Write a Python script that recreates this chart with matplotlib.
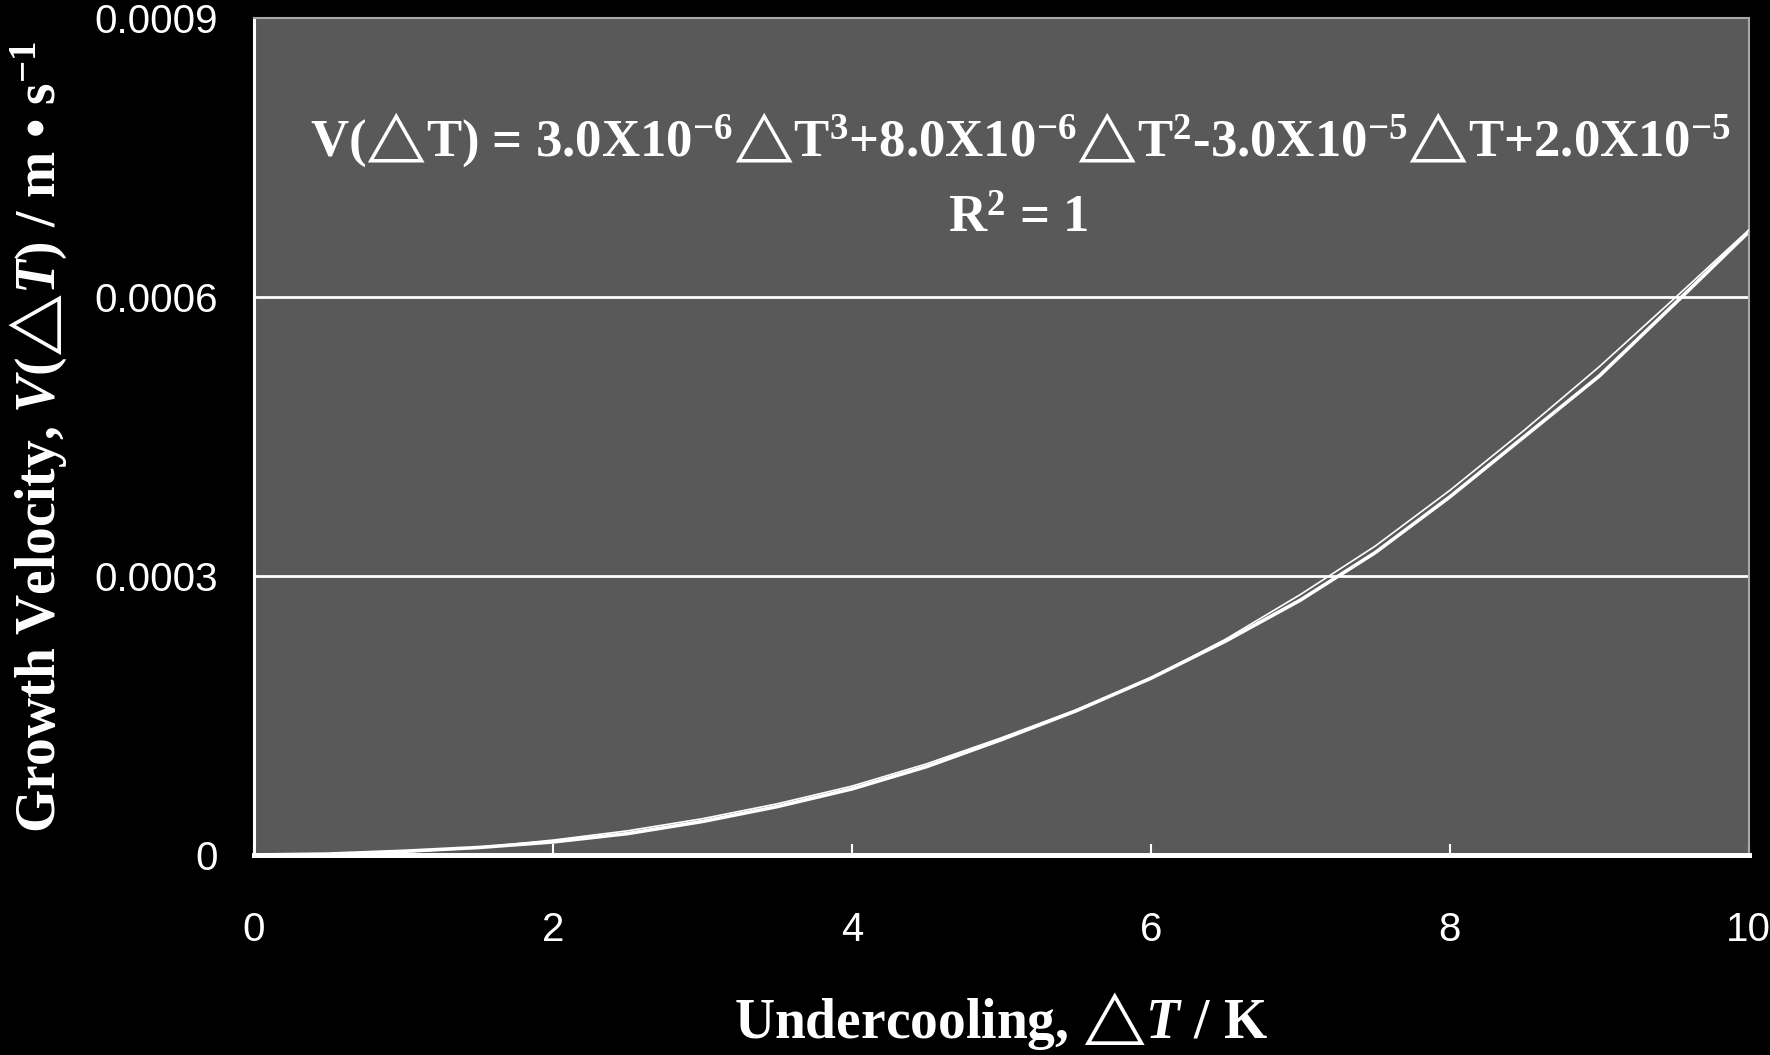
import matplotlib
matplotlib.use("Agg")
import matplotlib.pyplot as plt

# undercooling (K) and growth velocity (m/s)
dT = [0, 0.5, 1, 1.5, 2, 2.5, 3, 3.5, 4, 4.5, 5, 5.5, 6, 6.5, 7, 7.5, 8, 8.5, 9, 9.5, 10]
v_data = [0, 1e-6, 4e-6, 8e-6, 1.4e-5, 2.3e-5, 3.6e-5, 5.2e-5, 7.1e-5, 9.5e-5, 1.24e-4,
          1.55e-4, 1.9e-4, 2.3e-4, 2.74e-4, 3.25e-4, 3.85e-4, 4.5e-4, 5.15e-4, 5.92e-4, 6.7e-4]
# polynomial trend line as drawn
v_trend = [0, 1e-6, 3e-6, 8e-6, 1.6e-5, 2.6e-5, 3.9e-5, 5.5e-5, 7.4e-5, 9.8e-5, 1.26e-4,
           1.56e-4, 1.9e-4, 2.32e-4, 2.8e-4, 3.32e-4, 3.92e-4, 4.57e-4, 5.25e-4, 5.98e-4, 6.72e-4]

xticks = [0, 2, 4, 6, 8, 10]
yticks = [0, 0.0003, 0.0006, 0.0009]
ytick_labels = ["0", "0.0003", "0.0006", "0.0009"]

equation = (r"V($△$T) = 3.0X10$^{-6}△$T$^{3}$+8.0X10$^{-6}△$T$^{2}$"
            r"-3.0X10$^{-5}△$T+2.0X10$^{-5}$")
r2_text = r"R$^{2}$ = 1"

plt.rcParams["mathtext.fontset"] = "custom"
plt.rcParams["mathtext.rm"] = "Liberation Serif:bold"
plt.rcParams["mathtext.bf"] = "Liberation Serif:bold"
plt.rcParams["mathtext.it"] = "Liberation Serif:italic:bold"
plt.rcParams["mathtext.fallback"] = "stix"
plt.rcParams["mathtext.default"] = "regular"

fig = plt.figure(figsize=(17.7, 10.55), dpi=100, facecolor="black")
ax = fig.add_axes([0.1435, 0.1896, 0.8445, 0.7934], facecolor="#595959")

for y in yticks[1:3]:
    ax.axhline(y, color="white", lw=2.0, zorder=1)

ax.plot(dT, v_trend, color="white", lw=1.2, zorder=3)
ax.plot(dT, v_data, color="white", lw=2.6, zorder=2)

ax.set_xlim(0, 10)
ax.set_ylim(0, 0.0009)
ax.set_xticks(xticks)
ax.set_yticks(yticks)
ax.set_yticklabels(ytick_labels)

ax.tick_params(axis="x", direction="in", length=8, width=1.5, color="white",
               labelcolor="white", labelsize=29, pad=40)
ax.tick_params(axis="y", length=0, labelcolor="white", labelsize=29, pad=26)
for lab in ax.get_xticklabels() + ax.get_yticklabels():
    lab.set_fontfamily("Liberation Sans")

ax.spines["left"].set_color("white")
ax.spines["left"].set_linewidth(2.2)
ax.spines["bottom"].set_color("white")
ax.spines["bottom"].set_linewidth(3.6)
ax.spines["top"].set_color("#a8a8a8")
ax.spines["top"].set_linewidth(1.5)
ax.spines["right"].set_color("#a8a8a8")
ax.spines["right"].set_linewidth(1.5)

ax.set_xlabel(r"Undercooling, $△\mathit{T}$ / K", color="white", fontsize=40,
              fontweight="bold", family="Liberation Serif", labelpad=30)
ax.set_ylabel(r"Growth Velocity, $\mathit{V}$($△\mathit{T}$) / m • s$^{-1}$", color="white",
              fontsize=40, fontweight="bold", family="Liberation Serif", labelpad=18)

ax.text(0.513, 0.836, equation, transform=ax.transAxes, ha="center", va="baseline",
        color="white", fontsize=38, fontweight="bold", family="Liberation Serif")
ax.text(0.511, 0.744, r2_text, transform=ax.transAxes, ha="center", va="baseline",
        color="white", fontsize=38, fontweight="bold", family="Liberation Serif")

fig.savefig("out.png", dpi=100, facecolor="black")
